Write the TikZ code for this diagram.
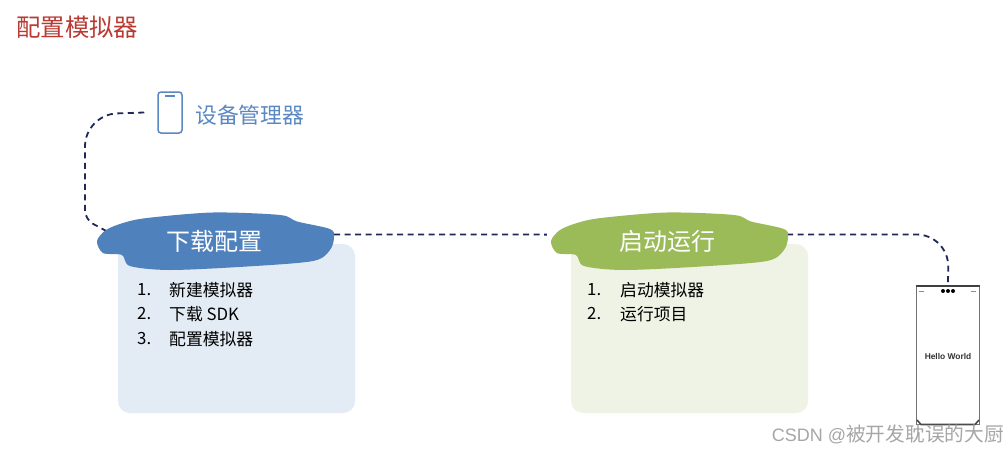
\documentclass[tikz,border=0pt]{standalone}
\usepackage{fontspec}
\setmainfont{Noto Sans CJK SC}
\newfontfamily\latinfont{Liberation Sans}

\definecolor{titlered}{HTML}{B93A32}
\definecolor{iconblue}{HTML}{5B87C2}
\definecolor{linknavy}{HTML}{20285A}
\definecolor{blobblue}{HTML}{4F81BD}
\definecolor{blobgreen}{HTML}{9BBB59}
\definecolor{paneblue}{HTML}{E3EBF5}
\definecolor{panegreen}{HTML}{EFF3E5}

\tikzset{
	linkline/.style={draw=linknavy,line width=1.8pt,dash pattern=on 6pt off 4.5pt,rounded corners=32pt},
	blobtext/.style={text=white,font=\fontsize{24}{28}\selectfont,minimum width=240pt,minimum height=56pt,inner sep=0pt},
	pane/.style={rounded corners=12pt,minimum width=237pt,minimum height=169pt,inner sep=0pt},
	itemnum/.style={anchor=west,inner sep=0pt,font=\fontsize{16.8}{20}\selectfont},
}

\newcommand{\blobshape}[2]{
	\fill[#2,shift={(#1,0)}] plot[smooth cycle,tension=0.5] coordinates {
		(97,241) (106,230) (123,223) (147,218) (213,212.5) (280,215) (297,221.5) (330,229)
		(334,237) (330,250) (313,261) (247,266.5) (170,270) (130,266) (122,255) (103,253)};
}

\begin{document}
\begin{tikzpicture}[x=1pt,y=-1pt]
	\useasboundingbox[fill=white] (0,0) rectangle (1008,452);

	\node[anchor=west,inner sep=0pt,text=titlered,font=\fontsize{24.4}{28}\selectfont] (title) at (16,27) {配置模拟器};

	% small phone icon
	\node[draw=iconblue,line width=1.5pt,rounded corners=3pt,minimum width=24pt,minimum height=41pt,inner sep=0pt] (phoneicon) at (170,112.5) {};
	\draw[iconblue,line width=1.2pt] (165,96) -- (175,96);
	\node[anchor=west,inner sep=0pt,text=iconblue,font=\fontsize{21.8}{26}\selectfont] (devmgr) at (195,115) {设备管理器};

	% panes
	\node[pane,fill=paneblue] (leftpane) at (236.5,328.5) {};
	\node[pane,fill=panegreen] (rightpane) at (689.5,328.5) {};

	\node[blobtext] (download) at (214,241) {};
	\node[blobtext] (launch) at (667,241) {};

	% device
	\node[draw=black!55,line width=1pt,fill=white,minimum width=63pt,minimum height=138pt,inner sep=0pt] (device) at (948,355.5) {};
	\draw[black!75,line width=2.4pt] (device.north west) -- (device.north east);
	\draw[black!70,line width=1.6pt] (917,420) -- (921,424.5) -- (975,424.5) -- (979,420);
	\foreach \dotx in {943,948,953}
		\fill[black] (\dotx,291) circle (2pt);
	\draw[black!45,line width=1pt] (919,291) -- (924,291);
	\draw[black!45,line width=1pt] (971,291) -- (976,291);
	\node[inner sep=0pt,text=black!80,font=\latinfont\bfseries\fontsize{8.4}{10}\selectfont] (hello) at (948,356) {Hello World};

	% links
	\draw[linkline] ([xshift=-13pt]phoneicon.west) -- (85,114.5) [rounded corners=9pt] -- (85,219.5) -- ([xshift=18pt,yshift=7pt]download.west);
	\draw[linkline] ([yshift=6.6pt]download.east) -- ([yshift=6.4pt]launch.west);
	\draw[linkline] ([yshift=6.5pt]launch.east) -- (948.5,234.5) -- (device.north);

	\blobshape{0}{blobblue}
	\blobshape{454}{blobgreen}
	\node[blobtext] (downloadtext) at (214,241) {下载配置};
	\node[blobtext] (launchtext) at (667,241) {启动运行};

	% left list
	\node[itemnum] (la) at (137,290) {1.};
	\node[itemnum] (lb) at (137,314) {2.};
	\node[itemnum] (lc) at (137,339) {3.};
	\node[itemnum] (lat) at (169,290) {新建模拟器};
	\node[itemnum] (lbt) at (169,314) {下载 SDK};
	\node[itemnum] (lct) at (169,339) {配置模拟器};

	% right list
	\node[itemnum] (ra) at (587,290) {1.};
	\node[itemnum] (rb) at (587,314) {2.};
	\node[itemnum] (rat) at (620,290) {启动模拟器};
	\node[itemnum] (rbt) at (620,314) {运行项目};

	\node[anchor=east,inner sep=0pt,text=black!35,font=\fontsize{19.7}{22}\selectfont] (mark) at (1004,434) {{\latinfont\fontsize{18}{22}\selectfont CSDN @}被开发耽误的大厨};
\end{tikzpicture}
\end{document}
